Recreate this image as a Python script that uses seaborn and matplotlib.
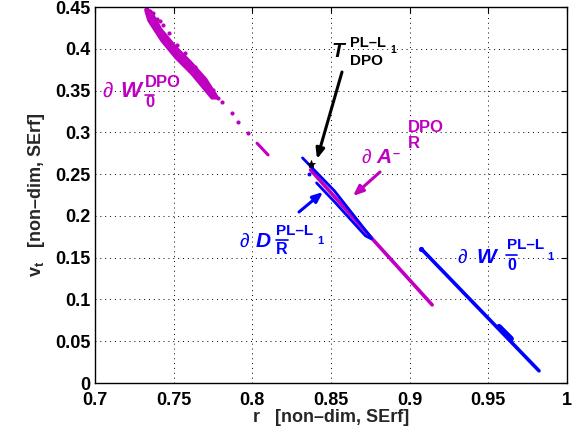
import numpy as np
import pandas as pd
import matplotlib
matplotlib.use("Agg")
import matplotlib.pyplot as plt
import seaborn as sns

# ---------------- data ----------------
# magenta band  dW_0^DPO  (strands of points)
dpo_w0_seg = [0, 0, 0, 0, 0, 0, 1, 1, 1, 1, 1, 1]
dpo_w0_r = [0.7330, 0.7349, 0.7431, 0.7520, 0.7621, 0.7748,
            0.7349, 0.7412, 0.7507, 0.7602, 0.7698, 0.7767]
dpo_w0_v = [0.4464, 0.4344, 0.4105, 0.3902, 0.3711, 0.3423,
            0.4440, 0.4225, 0.4010, 0.3830, 0.3627, 0.3423]
# looser dotted strand on the band's right side, and dots trailing off
dpo_dots_r = [0.7368, 0.7393, 0.7412, 0.7431, 0.7469, 0.7520, 0.7571, 0.7634,
              0.7698, 0.7748, 0.7780, 0.7805, 0.787, 0.791, 0.797]
dpo_dots_v = [0.4428, 0.4356, 0.4333, 0.4285, 0.4189, 0.4045, 0.3950, 0.3782,
              0.3627, 0.3507, 0.3411, 0.3363, 0.323, 0.312, 0.299]
dpo_tail_r = [0.803, 0.810]
dpo_tail_v = [0.287, 0.273]

# magenta line  dA^-_R^DPO
dpo_a_r = [0.8370, 0.8757, 0.9143]
dpo_a_v = [0.2550, 0.1737, 0.0935]

# blue lines  dD_Rbar^{PL-L1}
pl_d_seg = [0, 0, 0, 1, 1, 1, 1]
pl_d_r = [0.8319, 0.8522, 0.8757, 0.8408, 0.8528, 0.8719, 0.8757]
pl_d_v = [0.2694, 0.2299, 0.1737, 0.2395, 0.2157, 0.1761, 0.1725]

# blue line  dW_0bar^{PL-L1}
pl_w0_seg = [0, 0, 1, 1]
pl_w0_r = [0.9074, 0.9822, 0.9568, 0.9644]
pl_w0_v = [0.1605, 0.0146, 0.0672, 0.0529]

# equilibrium point T
t_r = [0.837]
t_v = [0.262]
t_dot_r = [0.836]
t_dot_v = [0.250]

x_ticks = [0.7, 0.75, 0.8, 0.85, 0.9, 0.95, 1.0]
x_ticklabels = ["0.7", "0.75", "0.8", "0.85", "0.9", "0.95", "1"]
y_ticks = [0, 0.05, 0.1, 0.15, 0.2, 0.25, 0.3, 0.35, 0.4, 0.45]
y_ticklabels = ["0", "0.05", "0.1", "0.15", "0.2", "0.25", "0.3", "0.35", "0.4", "0.45"]

MAG = "#c000c0"
BLU = "#0000ff"

# ---------------- figure ----------------
sns.set_style("white")
plt.rcParams["font.family"] = ["Liberation Sans", "DejaVu Sans"]
plt.rcParams["font.weight"] = "bold"
plt.rcParams["mathtext.fontset"] = "custom"
plt.rcParams["mathtext.rm"] = "Liberation Sans:bold"
plt.rcParams["mathtext.bf"] = "Liberation Sans:bold"
plt.rcParams["mathtext.it"] = "Liberation Sans:bold:italic"

W, H = 578, 441
fig = plt.figure(figsize=(W / 100, H / 100), dpi=100)
ax = fig.add_axes([95 / W, (H - 383) / H, (567 - 95) / W, (383 - 7) / H])

df_w0 = pd.DataFrame({"r": dpo_w0_r, "v": dpo_w0_v, "seg": dpo_w0_seg})
sns.lineplot(data=df_w0, x="r", y="v", units="seg", estimator=None, sort=False,
             color=MAG, lw=4.0, ax=ax, legend=False)
sns.scatterplot(x=dpo_dots_r, y=dpo_dots_v, color=MAG, s=9, linewidth=0, ax=ax)
sns.lineplot(x=dpo_tail_r, y=dpo_tail_v, color=MAG, lw=2.2, sort=False,
             estimator=None, ax=ax)

sns.lineplot(x=dpo_a_r, y=dpo_a_v, color=MAG, lw=2.6, sort=False,
             estimator=None, ax=ax)

df_d = pd.DataFrame({"r": pl_d_r, "v": pl_d_v, "seg": pl_d_seg})
sns.lineplot(data=df_d, x="r", y="v", units="seg", estimator=None, sort=False,
             color=BLU, lw=2.0, ax=ax, legend=False)

df_w = pd.DataFrame({"r": pl_w0_r, "v": pl_w0_v, "seg": pl_w0_seg})
lines_before = len(ax.lines)
sns.lineplot(data=df_w, x="r", y="v", units="seg", estimator=None, sort=False,
             color=BLU, lw=2.6, ax=ax, legend=False)
if len(ax.lines) > lines_before + 1:
    ax.lines[-1].set_linewidth(4.2)
sns.scatterplot(x=pl_w0_r[:1], y=pl_w0_v[:1], color=BLU, s=14, linewidth=0, ax=ax)

ax.plot(t_r, t_v, marker="*", color="black", ms=6, ls="none", mew=0.6)
sns.scatterplot(x=t_dot_r, y=t_dot_v, color=BLU, s=8, linewidth=0, ax=ax)

ax.set_xlim(0.7, 1.0)
ax.set_ylim(0, 0.45)
ax.set_xticks(x_ticks)
ax.set_xticklabels(x_ticklabels, fontweight="bold", fontsize=13)
ax.set_yticks(y_ticks)
ax.set_yticklabels(y_ticklabels, fontweight="bold", fontsize=13)
ax.tick_params(direction="in", length=4, width=0.8, top=True, right=True,
               colors="black")
ax.tick_params(axis="x", pad=6.5)
ax.tick_params(axis="y", pad=3)
ax.grid(True, ls=(0, (1, 4)), color="black", lw=0.7)
for s in ax.spines.values():
    s.set_color("black")
    s.set_linewidth(1.0)

ax.set_xlabel("r   [non\u2013dim, SErf]", fontsize=13, fontweight="bold", labelpad=0)
ax.set_ylabel(r"$\mathbf{v}_{\mathbf{t}}$   [non" + "\u2013" + "dim, SErf]",
              fontsize=13, fontweight="bold", labelpad=6)


# ---------------- annotations (pixel positions of the labels) ----------------
def put(x, y, s, size, color, weight="bold", style="normal"):
    fig.text(x / W, 1 - y / H, s, fontsize=size, color=color, fontweight=weight,
             fontstyle=style, va="baseline", ha="left")


def bar(x0, x1, y, color):
    fig.add_artist(plt.Line2D([x0 / W, x1 / W], [1 - y / H, 1 - y / H],
                              color=color, lw=1.2))


# dW_0^DPO (magenta)
put(102, 97, "\u2202", 15, MAG, weight="normal")
put(120, 97, "W", 16, MAG, style="italic")
put(145, 87, "DPO", 12, MAG)
put(145, 107, "0", 12, MAG)
bar(145, 154, 95, MAG)

# T_DPO^{PL-L1} (black)
put(332, 57, "T", 15, "black", style="italic")
put(350, 47, "PL\u2013L", 10.5, "black")
put(390, 53, "1", 7.5, "black")
put(350, 65, "DPO", 11, "black")

# dA^-_R^DPO (magenta)
put(361, 163, "\u2202", 14, MAG, weight="normal")
put(376, 163, "A", 15, MAG, style="italic")
put(393, 157, "\u2013", 9, MAG)
put(408, 132, "DPO", 12, MAG)
put(408, 148, "R", 12, MAG)

# dD_Rbar^{PL-L1} (blue)
put(239, 247, "\u2202", 14, BLU, weight="normal")
put(256, 247, "D", 15, BLU, style="italic")
put(276, 235, "PL\u2013L", 11, BLU)
put(317, 244, "1", 8, BLU)
put(276, 254, "R", 11.5, BLU)
bar(276, 288, 240, BLU)

# dW_0bar^{PL-L1} (blue)
put(458, 263, "\u2202", 14, BLU, weight="normal")
put(476, 263, "W", 15, BLU, style="italic")
put(507, 249, "PL\u2013L", 11, BLU)
put(547, 260, "1", 8, BLU)
put(507, 270, "0", 11.5, BLU)
bar(506, 517, 255, BLU)


def arrow(x0, y0, x1, y1, color):
    ax.annotate("", xy=(x1, H - y1), xycoords="figure pixels",
                xytext=(x0, H - y0), textcoords="figure pixels",
                arrowprops=dict(arrowstyle="-|>,head_length=0.6,head_width=0.25",
                                color=color, lw=2.2, shrinkA=0, shrinkB=0))


arrow(342, 72, 317, 159, "black")
arrow(380, 172, 353, 196, MAG)
arrow(299, 212, 323, 192, BLU)

fig.savefig("out.png", dpi=100)
